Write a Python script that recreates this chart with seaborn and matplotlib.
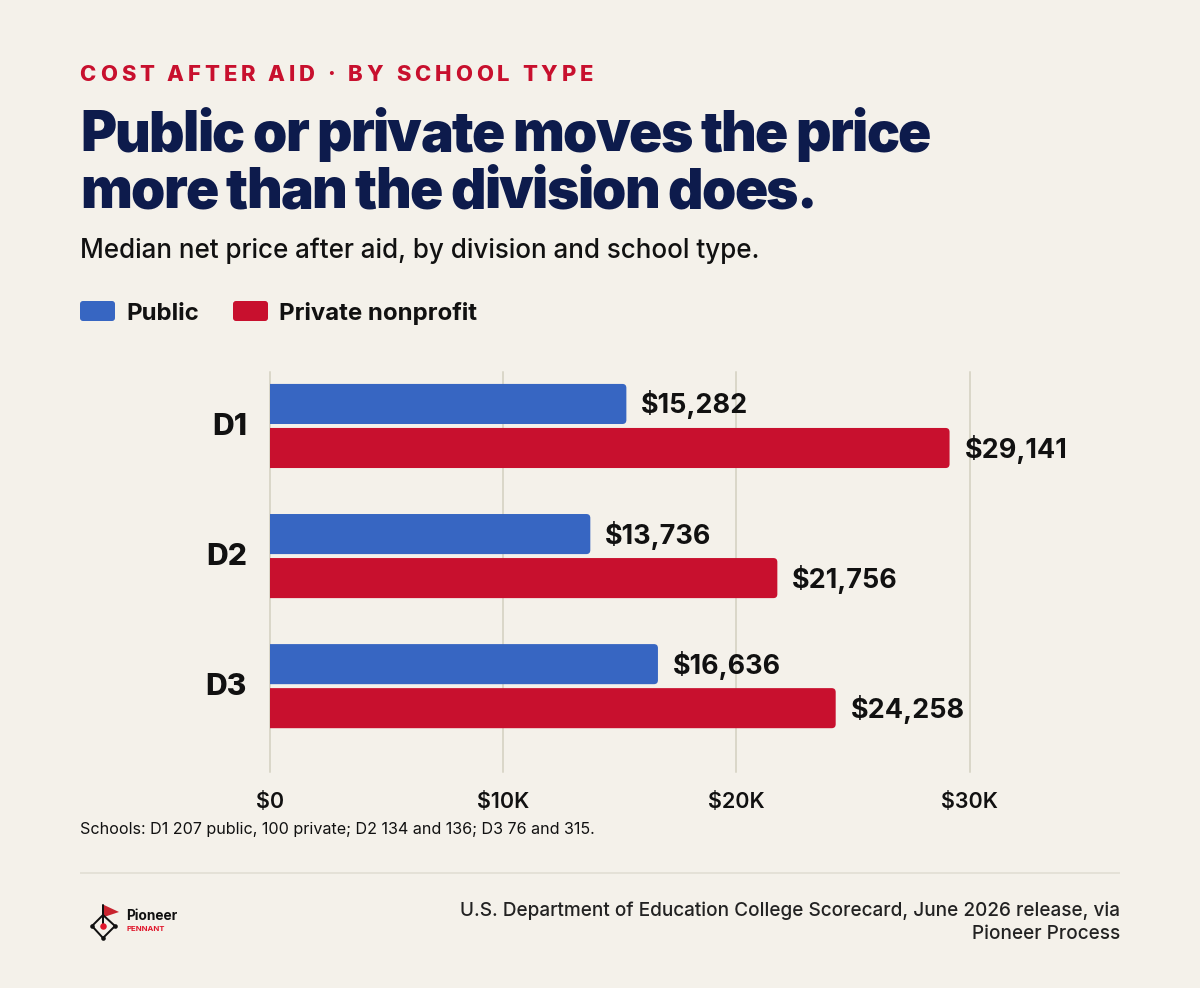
import pandas as pd
import matplotlib
matplotlib.use("Agg")
import matplotlib.pyplot as plt
from matplotlib.patches import FancyBboxPatch, PathPatch, Polygon
from matplotlib.path import Path
from matplotlib.text import Text
from matplotlib.ticker import FuncFormatter
from matplotlib.transforms import Bbox, ScaledTranslation
import seaborn as sns

DIVISIONS = ["D1", "D2", "D3"]
SCHOOL_TYPES = ["Public", "Private nonprofit"]
PUBLIC_PRICE = [15282, 13736, 16636]
PRIVATE_PRICE = [29141, 21756, 24258]
X_TICKS = [0, 10000, 20000, 30000]

BG = "#F4F1EA"
BLUE = "#3766C2"
RED = "#C8102E"
NAVY = "#0D1B4C"
INK = "#111111"
GRID = "#DAD7C9"
RULE = "#E4E1D7"

sns.set_theme(style="white")
plt.rcParams.update({"font.family": ["Inter", "DejaVu Sans"], "figure.dpi": 100,
                     "savefig.facecolor": BG})


def pt(px):
    return px * 0.72


class TrackedText(Text):
    """Text with letter spacing, drawn glyph by glyph but kept as one string.
    The position is the baseline of the last line, as in plain matplotlib text."""

    def __init__(self, *args, track=0, line_px=0, **kwargs):
        super().__init__(*args, **kwargs)
        self.track = track
        self.line_px = line_px

    def draw(self, renderer):
        if not self.get_visible():
            return
        gc = renderer.new_gc()
        gc.set_foreground(self.get_color())
        gc.set_antialiased(True)
        x0, y0 = self.get_transform().transform(self.get_position())
        fp = self.get_fontproperties()
        lines = self.get_text().split("\n")
        for n, line in enumerate(lines):
            y = renderer.height - (y0 + (len(lines) - 1 - n) * self.line_px)
            for i, ch in enumerate(line):
                w = renderer.get_text_width_height_descent(line[:i], fp, False)[0] if i else 0
                renderer.draw_text(gc, x0 + w + i * self.track, y, ch, fp, 0)
        gc.restore()

    def get_window_extent(self, renderer=None, dpi=None):
        renderer = renderer or self.get_figure().canvas.get_renderer()
        x0, y0 = self.get_transform().transform(self.get_position())
        fp = self.get_fontproperties()
        lines = self.get_text().split("\n")
        width = 0
        for line in lines:
            w = renderer.get_text_width_height_descent(line, fp, False)[0]
            width = max(width, w + (len(line) - 1) * self.track)
        cap = fp.get_size_in_points() / 0.72 * 0.75
        return Bbox([[x0, y0], [x0 + width, y0 + cap + (len(lines) - 1) * self.line_px]])


df = pd.DataFrame({
    "division": DIVISIONS * 2,
    "school_type": [SCHOOL_TYPES[0]] * 3 + [SCHOOL_TYPES[1]] * 3,
    "net_price": PUBLIC_PRICE + PRIVATE_PRICE,
})

fig = plt.figure(figsize=(12, 9.88), facecolor=BG)

# page layer, coordinates are pixels from the top left
page = fig.add_axes([0, 0, 1, 1], zorder=0)
page.set_xlim(0, 1200)
page.set_ylim(988, 0)
page.axis("off")

# chart
ax = fig.add_axes([270 / 1200, 1 - 772 / 988, 850 / 1200, 400 / 988], zorder=1)
ax.set_facecolor("none")
sns.barplot(data=df, y="division", x="net_price", hue="school_type",
            palette=[BLUE, RED], width=0.677, gap=0.09, saturation=1,
            legend=False, ax=ax)
ax.set_xlim(0, 36450)
ax.set_ylim(2.66, -0.415)
sns.despine(ax=ax, left=True, bottom=True)
ax.set_xlabel("")
ax.set_ylabel("")
ax.set_xticks(X_TICKS)
ax.xaxis.set_major_formatter(FuncFormatter(lambda v, _: "$0" if v == 0 else f"${v / 1000:.0f}K"))
ax.grid(axis="x", color=GRID, linewidth=pt(2))
ax.set_axisbelow(True)
for line in ax.get_xgridlines():
    line.set_clip_on(False)
ax.tick_params(axis="x", length=0, pad=pt(20), labelsize=pt(21.5), labelcolor=INK)
ax.tick_params(axis="y", length=0, pad=pt(23), labelsize=pt(30), labelcolor=INK)
for lab in ax.get_xticklabels():
    lab.set_fontweight("semibold")
up = ScaledTranslation(0, 2 / 100, fig.dpi_scale_trans)
for lab in ax.get_yticklabels():
    lab.set_fontweight("heavy")
    lab.set_transform(lab.get_transform() + up)

# value labels, then swap the square bars for ones rounded on the right
RX, RY = 4 / 0.02332, 4 / 130
for container in ax.containers:
    labels = ax.bar_label(container, labels=[f"${v:,.0f}" for v in container.datavalues],
                          padding=pt(15), fontsize=pt(27), fontweight="bold", color=INK)
    for t in labels:
        t.xyann = (t.xyann[0], t.xyann[1] - pt(1))
    for bar in list(container):
        x0, y0, w, h = bar.get_x(), bar.get_y(), bar.get_width(), bar.get_height()
        x1, y1 = x0 + w, y0 + h
        verts = [(x0, y0), (x1 - RX, y0), (x1, y0), (x1, y0 + RY), (x1, y1 - RY),
                 (x1, y1), (x1 - RX, y1), (x0, y1), (x0, y0)]
        codes = [Path.MOVETO, Path.LINETO, Path.CURVE3, Path.CURVE3, Path.LINETO,
                 Path.CURVE3, Path.CURVE3, Path.LINETO, Path.CLOSEPOLY]
        ax.add_patch(PathPatch(Path(verts, codes), facecolor=bar.get_facecolor(),
                               edgecolor="none", zorder=bar.get_zorder()))
        bar.remove()

# header
page.add_artist(TrackedText(79.6, 81, "COST AFTER AID · BY SCHOOL TYPE", track=3.95, color=RED,
                            fontsize=pt(22), fontweight="heavy",
                            transform=page.transData))
page.add_artist(TrackedText(80, 208, "Public or private moves the price\nmore than the division does.",
                            track=-1.66, line_px=57, color=NAVY, fontsize=pt(55),
                            fontweight="black", linespacing=1.0, transform=page.transData))
page.text(80, 258, "Median net price after aid, by division and school type.", color=INK,
          fontsize=pt(26), fontweight="medium")

# legend
for x, color, label in [(80, BLUE, SCHOOL_TYPES[0]), (233, RED, SCHOOL_TYPES[1])]:
    page.add_patch(FancyBboxPatch((x + 3, 304), 29, 14, boxstyle="round,pad=3,rounding_size=3",
                                  facecolor=color, edgecolor="none"))
    page.text(x + 46, 320, label, color=INK, fontsize=pt(24), fontweight="bold")

# note and footer
page.text(80, 834, "Schools: D1 207 public, 100 private; D2 134 and 136; D3 76 and 315.",
          color=INK, fontsize=pt(16.1))
page.plot([80, 1120], [873, 873], color=RULE, linewidth=pt(2), solid_capstyle="butt")
page.text(1120, 916, "U.S. Department of Education College Scorecard, June 2026 release, via",
          ha="right", color="#222222", fontsize=pt(19), fontweight="medium")
page.text(1120, 939, "Pioneer Process", ha="right", color="#222222", fontsize=pt(19),
          fontweight="medium")

# logo
page.plot([103, 92, 103, 115, 103], [915, 926, 938, 926, 915], color=INK, linewidth=pt(2))
page.plot([103, 103], [905, 926], color=INK, linewidth=pt(2))
page.scatter([92, 103, 115], [926, 938, 926], s=11, color=INK, zorder=3, linewidths=0)
page.scatter([103], [926], s=22, color="#E0162B", zorder=3, linewidths=0)
page.add_patch(Polygon([(104, 905), (119, 912), (104, 917)], facecolor="#C8242F", edgecolor="none"))
page.text(126, 920, "Pioneer", color=INK, fontsize=pt(13.7), fontweight="bold")
page.text(126.5, 931, "PENNANT", color="#E0162B", fontsize=pt(7.8), fontweight="bold")

fig.savefig("out.png", dpi=100, facecolor=BG)
